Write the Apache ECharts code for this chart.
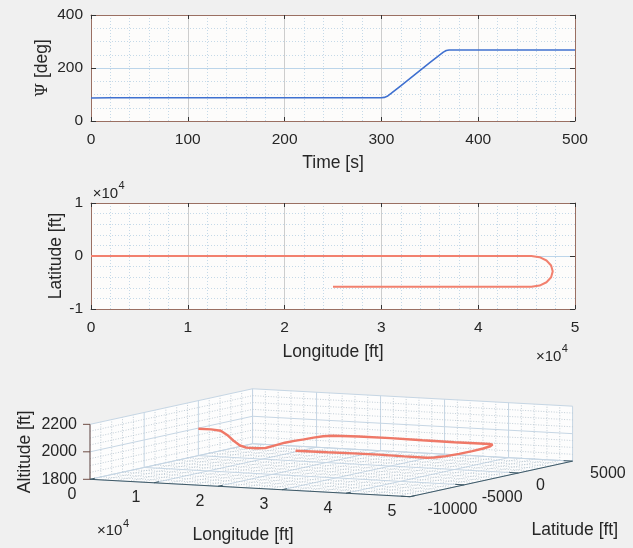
<!DOCTYPE html>
<html>
<head>
<meta charset="utf-8">
<script src="https://cdn.jsdelivr.net/npm/echarts@6/dist/echarts.min.js"></script>
<style>
html,body{margin:0;padding:0;background:#f0f0f0;}
#c{width:633px;height:548px;}
</style>
</head>
<body>
<div id="c"></div>
<script>
// ---------- Panel 1: heading vs time ----------
const timeS  = [0, 20, 50, 100, 150, 200, 250, 300, 303, 306, 310, 320, 330, 340, 350, 360, 364, 367, 370, 400, 450, 500];
const psiDeg = [87, 88, 88, 88, 88, 88, 88, 88, 89, 93, 104, 133, 162, 191, 220, 249, 260, 266, 268, 268, 268, 268];

// ---------- Trajectory (panel 2 and panel 3) ----------
const lonFt = [0, 2000, 3500, 4500, 5500, 6500, 7500, 9000, 10500, 12000, 13500, 15000, 16500, 18000, 19500, 21000, 25000, 30000, 35000, 40000, 45500,
               46342, 47056, 47533, 47700, 47533, 47056, 46342, 45500,
               42000, 38000, 34000, 30000, 25000];
const latFt = [0, 0, 0, 0, 0, 0, 0, 0, 0, 0, 0, 0, 0, 0, 0, 0, 0, 0, 0, 0, 0,
               -221, -851, -1790, -2900, -4010, -4949, -5579, -5800,
               -5800, -5800, -5800, -5800, -5800];
const altFt = [1995, 1996, 1990, 1962, 1922, 1890, 1877, 1876, 1882, 1905, 1928, 1945, 1960, 1976, 1990, 1998, 2002, 2003, 2000, 1998, 2000,
               2001, 2002, 2003, 2003, 2002, 2001, 2000, 2000,
               2001, 2003, 2002, 2000, 1999];

// ---------- 3D tick labels ----------
const lon3dTicks = [0, 10000, 20000, 30000, 40000, 50000];
const lon3dTickLabels = ['0', '1', '2', '3', '4', '5'];
const lat3dTicks = [-10000, -5000, 0, 5000];
const alt3dTicks = [1800, 2000, 2200];

// ---------- styling / view ----------
const FONT = '"Liberation Sans", Arial, sans-serif';
const TXT = '#262626';
const BOX = '#9a6f62';
const lim3d = {lon: [0, 50000], lat: [-10000, 5000], alt: [1800, 2200]};
const view3d = {ox: 90, oy: 479.3, az: 26.5, el: 6.26, L: [357.6, 364.3, 55.3]};

function proj(lon, lat, alt) {
  const xn = (lon - lim3d.lon[0]) / (lim3d.lon[1] - lim3d.lon[0]);
  const yn = (lat - lim3d.lat[0]) / (lim3d.lat[1] - lim3d.lat[0]);
  const zn = (alt - lim3d.alt[0]) / (lim3d.alt[1] - lim3d.alt[0]);
  const a = view3d.az * Math.PI / 180, e = view3d.el * Math.PI / 180;
  const X = xn * view3d.L[0], Y = yn * view3d.L[1], Z = zn * view3d.L[2];
  return [view3d.ox + X * Math.cos(a) + Y * Math.sin(a),
          view3d.oy + (X * Math.sin(a) - Y * Math.cos(a)) * Math.sin(e) - Z * Math.cos(e)];
}
function steps(a, b, s) { const r = []; for (let v = a; v <= b + 1e-6; v += s) r.push(v); return r; }

function frame3d(params, api) {
  const P = (lo, la, al) => api.coord(proj(lo, la, al));
  const ch = [];
  const [l0, l1] = lim3d.lon, [b0, b1] = lim3d.lat, [z0, z1] = lim3d.alt;
  const poly = pts => ch.push({type: 'polygon', shape: {points: pts}, style: {fill: '#fdfdfd'}});
  poly([P(l0, b0, z0), P(l1, b0, z0), P(l1, b1, z0), P(l0, b1, z0)]);
  poly([P(l0, b0, z0), P(l0, b1, z0), P(l0, b1, z1), P(l0, b0, z1)]);
  poly([P(l0, b1, z0), P(l1, b1, z0), P(l1, b1, z1), P(l0, b1, z1)]);
  const seg = (p, q, st) => ch.push({type: 'line', shape: {x1: p[0], y1: p[1], x2: q[0], y2: q[1]}, style: st});
  const minorSt = {stroke: '#b3c1cd', lineWidth: 0.8, lineDash: [1, 1.6]};
  const majorSt = {stroke: '#c6d6e4', lineWidth: 1};
  const isMaj = (v, m) => Math.abs(v / m - Math.round(v / m)) < 1e-6;
  steps(l0, l1, 2000).forEach(v => {
    const st = isMaj(v, 10000) ? majorSt : minorSt;
    seg(P(v, b0, z0), P(v, b1, z0), st);
    seg(P(v, b1, z0), P(v, b1, z1), st);
  });
  steps(b0, b1, 1000).forEach(v => {
    const st = isMaj(v, 5000) ? majorSt : minorSt;
    seg(P(l0, v, z0), P(l1, v, z0), st);
    seg(P(l0, v, z0), P(l0, v, z1), st);
  });
  steps(z0, z1, 50).forEach(v => {
    const st = isMaj(v, 200) ? majorSt : minorSt;
    seg(P(l0, b0, v), P(l0, b1, v), st);
    seg(P(l0, b1, v), P(l1, b1, v), st);
  });
  const axSt = {stroke: '#3f5966', lineWidth: 1};
  const zSt = {stroke: '#6e4c44', lineWidth: 1};
  seg(P(l0, b0, z0), P(l1, b0, z0), axSt);
  seg(P(l1, b0, z0), P(l1, b1, z0), axSt);
  seg(P(l0, b0, z0), P(l0, b0, z1), zSt);
  const txt = (s, x, y, align, size) => ch.push({type: 'text', style: {text: s, x: x, y: y, align: align, verticalAlign: 'middle', font: (size || 16) + 'px ' + FONT, fill: TXT}});
  alt3dTicks.forEach(v => {
    const p = P(l0, b0, v);
    seg([p[0] - 7, p[1]], p, zSt);
    txt(String(v), p[0] - 13, p[1], 'right');
  });
  lon3dTicks.forEach((v, i) => {
    const p = P(v, b0, z0), q = P(v, b0 + 450, z0);
    seg(p, q, axSt);
    txt(lon3dTickLabels[i], p[0] - 18, p[1] + 15, 'center');
  });
  lat3dTicks.forEach(v => {
    const p = P(l1, v, z0), q = P(l1 - 1400, v, z0);
    seg(p, q, axSt);
    txt(String(v), p[0] + 17.5, p[1] + 12.5, 'left');
  });
  // axis titles
  const mLon = P((l0 + l1) / 2, b0, z0);
  txt('Longitude [ft]', mLon[0] - 7, mLon[1] + 47, 'center', 17.5);
  const mLat = P(l1, (b0 + b1) / 2, z0);
  txt('Latitude [ft]', mLat[0] + 83.5, mLat[1] + 51, 'center', 17.5);
  const mAlt = P(l0, b0, (z0 + z1) / 2);
  ch.push({type: 'text', x: mAlt[0] - 65, y: mAlt[1], rotation: Math.PI / 2,
           style: {text: 'Altitude [ft]', x: 0, y: 0, align: 'center', verticalAlign: 'middle', font: '17.5px ' + FONT, fill: TXT}});
  // exponent for longitude
  const e0 = P(l0, b0, z0);
  txt('\u00d710', e0[0] + 7, e0[1] + 52, 'left', 15);
  txt('4', e0[0] + 33, e0[1] + 45, 'left', 11);
  return {type: 'group', children: ch};
}

const chart = echarts.init(document.getElementById('c'), null, {renderer: 'canvas'});

function baseX(grid, min, max, interval, fmt, name, nameGap, minorN) {
  return {
    gridIndex: grid, type: 'value', min: min, max: max, interval: interval, position: 'bottom',
    axisLine: {show: true, onZero: false, lineStyle: {color: BOX, width: 1}},
    axisTick: {show: true, inside: true, length: 4, lineStyle: {color: '#333'}},
    axisLabel: {margin: 11, fontSize: 15.5, color: TXT, fontFamily: FONT, formatter: fmt},
    splitLine: {show: true, lineStyle: {color: '#cdcdcd', width: 1}},
    minorTick: {show: false, splitNumber: minorN},
    minorSplitLine: {show: true, lineStyle: {color: '#c5d9e8', width: 1, type: [1, 2]}},
    name: name, nameLocation: 'middle', nameGap: nameGap, nameMoveOverlap: false,
    nameTextStyle: {fontSize: 17.5, color: TXT, fontFamily: FONT}
  };
}
function baseY(grid, min, max, interval, fmt, name, nameGap, minorN, richName) {
  return {
    gridIndex: grid, type: 'value', min: min, max: max, interval: interval, position: 'left',
    axisLine: {show: true, onZero: false, lineStyle: {color: BOX, width: 1}},
    axisTick: {show: true, inside: true, length: 5, lineStyle: {color: '#333'}},
    axisLabel: {margin: 8, fontSize: 15.5, color: TXT, fontFamily: FONT, formatter: fmt},
    splitLine: {show: true, lineStyle: {color: '#bcd5ea', width: 1}},
    minorTick: {show: false, splitNumber: minorN},
    minorSplitLine: {show: true, lineStyle: {color: '#c5d9e8', width: 1, type: [1, 2]}},
    name: name, nameLocation: 'middle', nameGap: nameGap, nameRotate: 90, nameMoveOverlap: false,
    nameTextStyle: {fontSize: 17.5, color: TXT, fontFamily: FONT, rich: richName || {}}
  };
}
function mirrorX(grid, min, max, interval) {
  return {gridIndex: grid, type: 'value', min: min, max: max, interval: interval, position: 'top',
    axisLine: {show: true, onZero: false, lineStyle: {color: BOX, width: 1}},
    axisTick: {show: true, inside: true, length: 4, lineStyle: {color: '#333'}},
    axisLabel: {show: false}, splitLine: {show: false}};
}
function mirrorY(grid, min, max, interval) {
  return {gridIndex: grid, type: 'value', min: min, max: max, interval: interval, position: 'right',
    axisLine: {show: true, onZero: false, lineStyle: {color: BOX, width: 1}},
    axisTick: {show: true, inside: true, length: 5, lineStyle: {color: '#333'}},
    axisLabel: {show: false}, splitLine: {show: false}};
}

const e4 = v => String(Math.round(v / 10000));

const option = {
  animation: false,
  backgroundColor: '#f0f0f0',
  grid: [
    {left: 91, top: 15, width: 484, height: 106, show: true, backgroundColor: '#fdfcfb', borderWidth: 0, containLabel: false, outerBoundsMode: 'none'},
    {left: 91, top: 203, width: 484, height: 106, show: true, backgroundColor: '#fdfcfb', borderWidth: 0, containLabel: false, outerBoundsMode: 'none'},
    {left: 0, top: 0, width: 633, height: 548, show: false, containLabel: false, outerBoundsMode: 'none'}
  ],
  xAxis: [
    baseX(0, 0, 500, 100, null, 'Time [s]', 33.5, 5),
    mirrorX(0, 0, 500, 100),
    baseX(1, 0, 50000, 10000, e4, 'Longitude [ft]', 34.5, 5),
    mirrorX(1, 0, 50000, 10000),
    {gridIndex: 2, type: 'value', min: 0, max: 633, show: false}
  ],
  yAxis: [
    baseY(0, 0, 400, 200, null, '{p|\u03a8} [deg]', 39.5, 4, {p: {fontFamily: '"DejaVu Serif", serif', fontSize: 16, color: TXT}}),
    mirrorY(0, 0, 400, 200),
    baseY(1, -10000, 10000, 10000, e4, 'Latitude [ft]', 26, 5),
    mirrorY(1, -10000, 10000, 10000),
    {gridIndex: 2, type: 'value', min: 0, max: 548, inverse: true, show: false}
  ],
  graphic: [
    {type: 'text', x: 92.7, y: 194, style: {text: '\u00d710', font: '15px ' + FONT, fill: TXT, verticalAlign: 'middle'}},
    {type: 'text', x: 118.5, y: 186, style: {text: '4', font: '11px ' + FONT, fill: TXT, verticalAlign: 'middle'}},
    {type: 'text', x: 536, y: 356.7, style: {text: '\u00d710', font: '15px ' + FONT, fill: TXT, verticalAlign: 'middle'}},
    {type: 'text', x: 561.8, y: 349, style: {text: '4', font: '11px ' + FONT, fill: TXT, verticalAlign: 'middle'}}
  ],
  series: [
    {type: 'line', xAxisIndex: 0, yAxisIndex: 0, showSymbol: false, z: 5,
     data: timeS.map((t, i) => [t, psiDeg[i]]),
     lineStyle: {color: '#3f70d0', width: 1.6}},
    {type: 'line', xAxisIndex: 2, yAxisIndex: 2, showSymbol: false, z: 5,
     data: lonFt.map((v, i) => [v, latFt[i]]),
     lineStyle: {color: '#f2806e', width: 2}},
    {type: 'custom', xAxisIndex: 4, yAxisIndex: 4, z: 1, silent: true, clip: false,
     data: [[0, 0]], renderItem: frame3d},
    {type: 'line', xAxisIndex: 4, yAxisIndex: 4, showSymbol: false, z: 5, clip: false,
     data: lonFt.map((v, i) => proj(v, latFt[i], altFt[i])),
     lineStyle: {color: '#ef7867', width: 2.4}}
  ]
};
chart.setOption(option);
</script>
</body>
</html>
